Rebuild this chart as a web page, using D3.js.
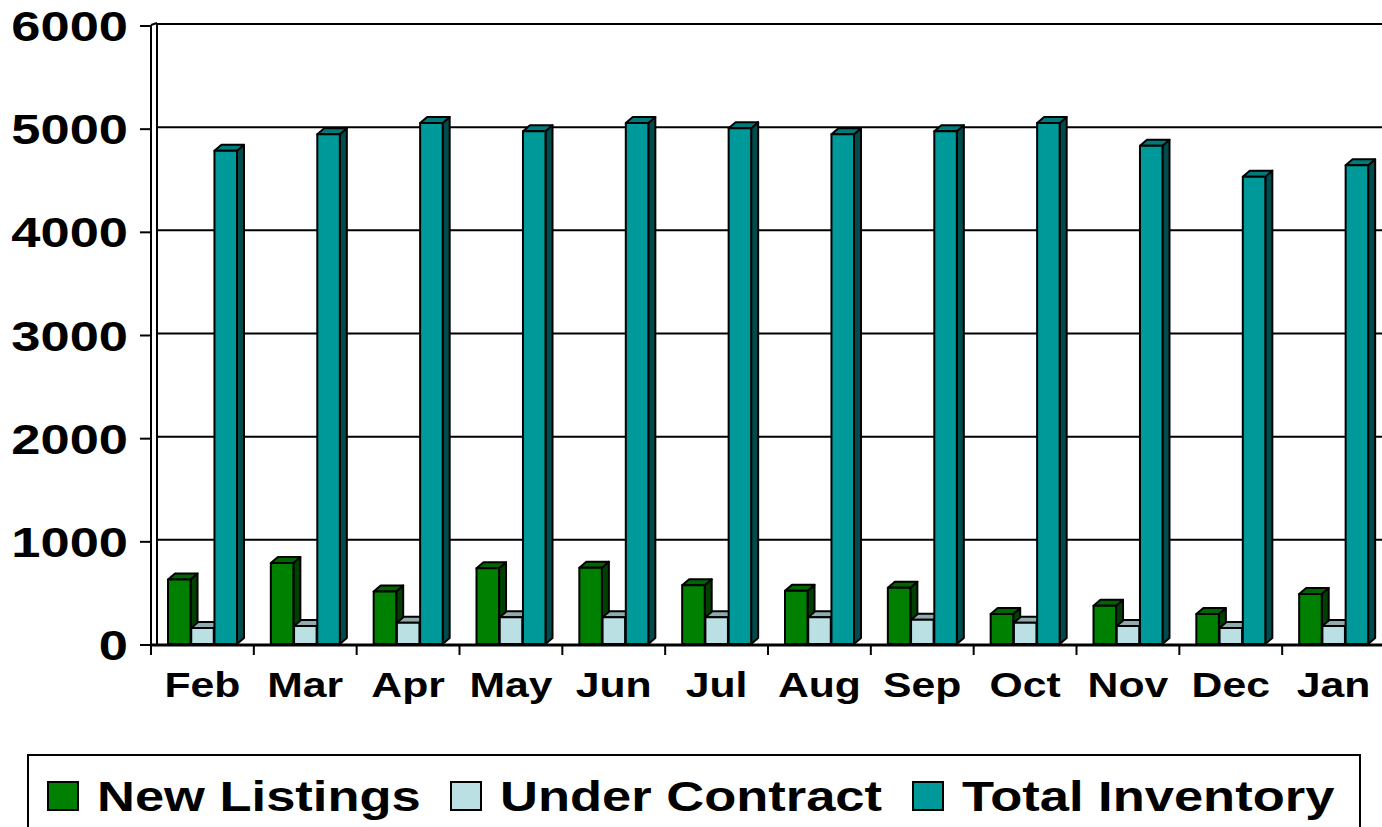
<!DOCTYPE html>
<html>
<head>
<meta charset="utf-8">
<script src="https://cdn.jsdelivr.net/npm/d3@7"></script>
<style>
  html, body { margin: 0; padding: 0; background: #fff; }
  svg { display: block; }
  text { font-family: "Liberation Sans", Arial, sans-serif; font-weight: bold; fill: #000; }
</style>
</head>
<body>
<svg id="chart" width="1382" height="827"></svg>
<script>
// Monthly listing activity
const months = ["Feb", "Mar", "Apr", "May", "Jun", "Jul", "Aug", "Sep", "Oct", "Nov", "Dec", "Jan"];
const newListings    = [625, 785, 510, 735, 740, 570, 515, 545, 290, 370, 290, 485];
const underContract  = [155, 175, 205, 260, 260, 260, 260, 235, 205, 175, 155, 175];
const totalInventory = [4780, 4940, 5050, 4970, 5050, 5000, 4940, 4970, 5050, 4830, 4530, 4640];
const seriesNames = ["New Listings", "Under Contract", "Total Inventory"];
const yTicks = [0, 1000, 2000, 3000, 4000, 5000, 6000];

const seriesValues = [newListings, underContract, totalInventory];
const palette = [
  { front: "#008000", top: "#006600", side: "#004000" },
  { front: "#bbe0e3", top: "#8fabad", side: "#5f7274" },
  { front: "#009999", top: "#007a7a", side: "#004c4c" }
];

const svg = d3.select("#chart");
const stretch = 1.22;      // wide lettering
const depth = 7;           // 3-D offset of bar tops and sides

const y = d3.scaleLinear().domain([0, 6000]).range([644, 25]);
const x0 = d3.scaleBand().domain(months).range([151, 1385]);
const x1 = d3.scaleBand().domain(seriesNames).range([17, 86]).paddingInner(0.03);

const wallX = 157;

// back wall gridlines
svg.append("g").selectAll("line").data(yTicks.filter(t => t > 0)).join("line")
  .attr("x1", wallX).attr("x2", 1382)
  .attr("y1", d => y(d) - 1).attr("y2", d => y(d) - 1)
  .attr("stroke", "#000").attr("stroke-width", 2);

// wall edges
svg.append("line").attr("x1", wallX).attr("x2", wallX).attr("y1", y(6000) - 2).attr("y2", y(0))
  .attr("stroke", "#000").attr("stroke-width", 2);
svg.append("line").attr("x1", 151).attr("x2", 151).attr("y1", y(6000)).attr("y2", y(0) + 2)
  .attr("stroke", "#000").attr("stroke-width", 2);
svg.append("line").attr("x1", 151).attr("x2", wallX).attr("y1", y(6000)).attr("y2", y(6000) - 2)
  .attr("stroke", "#000").attr("stroke-width", 2);

// bars
const bars = svg.append("g");
months.forEach((m, i) => {
  seriesNames.forEach((s, k) => {
    const v = seriesValues[k][i];
    const bx = x0(m) + x1(s);
    const bw = x1.bandwidth();
    const yt = y(v), yb = y(0);
    const c = palette[k];
    const g = bars.append("g").attr("stroke", "#000").attr("stroke-width", 2).attr("stroke-linejoin", "round");
    g.append("polygon")
      .attr("points", [[bx + bw, yt], [bx + bw + depth, yt - depth + 1], [bx + bw + depth, yb - depth + 1], [bx + bw, yb]].join(" "))
      .attr("fill", c.side);
    g.append("polygon")
      .attr("points", [[bx, yt], [bx + depth, yt - depth + 1], [bx + bw + depth, yt - depth + 1], [bx + bw, yt]].join(" "))
      .attr("fill", c.top);
    g.append("rect").attr("x", bx).attr("y", yt).attr("width", bw).attr("height", yb - yt)
      .attr("fill", c.front);
  });
});

// floor line
svg.append("line").attr("x1", 151).attr("x2", 1382).attr("y1", y(0) + 1).attr("y2", y(0) + 1)
  .attr("stroke", "#000").attr("stroke-width", 3);

// y ticks and labels
const yAxis = svg.append("g");
yAxis.selectAll("line").data(yTicks).join("line")
  .attr("x1", 140).attr("x2", 151)
  .attr("y1", d => y(d) + 1).attr("y2", d => y(d) + 1)
  .attr("stroke", "#000").attr("stroke-width", 2);
yAxis.selectAll("text").data(yTicks).join("text")
  .attr("transform", d => `translate(128,${y(d) + 16}) scale(${stretch},1)`)
  .attr("text-anchor", "end")
  .style("font-size", "43px")
  .text(d => d);

// category ticks and labels
const xAxis = svg.append("g");
xAxis.selectAll("line").data(d3.range(months.length + 1)).join("line")
  .attr("x1", i => 151 + i * x0.step()).attr("x2", i => 151 + i * x0.step())
  .attr("y1", y(0)).attr("y2", y(0) + 11)
  .attr("stroke", "#000").attr("stroke-width", 2);
xAxis.selectAll("text").data(months).join("text")
  .attr("transform", d => `translate(${x0(d) + x0.bandwidth() / 2},697) scale(${stretch},1)`)
  .attr("text-anchor", "middle")
  .style("font-size", "35px")
  .text(d => d);

// legend
const legend = svg.append("g");
legend.append("rect").attr("x", 28).attr("y", 755).attr("width", 1332).attr("height", 100)
  .attr("fill", "none").attr("stroke", "#000").attr("stroke-width", 2);
const legendX = [48, 451, 913];
seriesNames.forEach((s, k) => {
  legend.append("rect").attr("x", legendX[k]).attr("y", 782).attr("width", 30).attr("height", 28)
    .attr("fill", palette[k].front).attr("stroke", "#000").attr("stroke-width", 2);
  legend.append("text")
    .attr("transform", `translate(${legendX[k] + 49},811) scale(${stretch + 0.03},1)`)
    .style("font-size", "42px")
    .text(s);
});
</script>
</body>
</html>
